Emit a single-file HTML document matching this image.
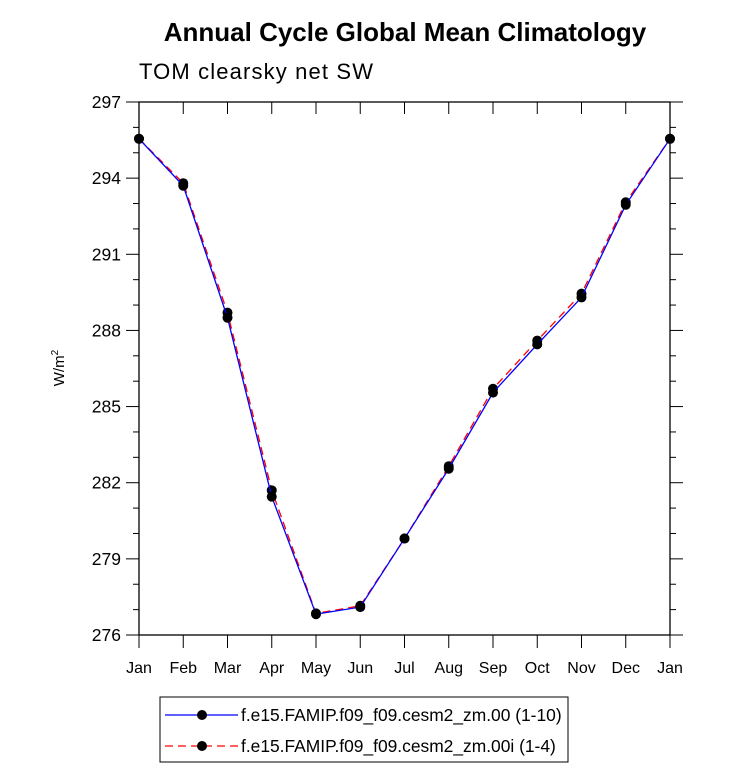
<!DOCTYPE html>
<html><head><meta charset="utf-8"><style>
body{margin:0;background:#fff;}
svg text{font-family:"Liberation Sans",sans-serif;}
</style></head><body>
<svg width="733" height="773" xmlns="http://www.w3.org/2000/svg" id="chart">
<text x="405" y="41" text-anchor="middle" font-size="26" font-weight="bold">Annual Cycle Global Mean Climatology</text>
<text x="139" y="79" font-size="22" textLength="234">TOM clearsky net SW</text>
<text transform="translate(64,368) rotate(-90)" text-anchor="middle" font-size="15">W/m<tspan dy="-6" font-size="10">2</tspan></text>
<g id="axes"></g>
<g id="series"></g>
<g>
<rect x="160" y="697" width="408" height="65" fill="none" stroke="#000" stroke-width="1"/>
<g>
<line x1="165" y1="715" x2="238" y2="715" stroke="#0000ff" stroke-width="1.3"/>
<circle cx="202" cy="715" r="5" fill="#000"/>
<text x="241" y="721" font-size="17.4">f.e15.FAMIP.f09_f09.cesm2_zm.00 (1-10)</text>
</g>
<g>
<line x1="165" y1="746" x2="238" y2="746" stroke="#ff0000" stroke-width="1.3" stroke-dasharray="8,5"/>
<circle cx="202" cy="746" r="5" fill="#000"/>
<text x="241" y="752" font-size="17.4">f.e15.FAMIP.f09_f09.cesm2_zm.00i (1-4)</text>
</g>
</g>
</svg>
<script>
const months = ["Jan","Feb","Mar","Apr","May","Jun","Jul","Aug","Sep","Oct","Nov","Dec","Jan"];
const seriesBlue = [295.55,293.7,288.5,281.45,276.82,277.1,279.8,282.55,285.55,287.45,289.3,292.95,295.55];
const seriesRed = [295.55,293.8,288.7,281.7,276.85,277.15,279.8,282.65,285.7,287.6,289.45,293.05,295.55];
const yTicks = [276,279,282,285,288,291,294,297];
const yMin=276,yMax=297;
const L=139,R=670,T=102,B=635;
const ns="http://www.w3.org/2000/svg";
function xs(i){return L+(R-L)*i/(months.length-1);}
function ys(v){return B-(v-yMin)/(yMax-yMin)*(B-T);}
function mk(tag,attrs,parent){const e=document.createElementNS(ns,tag);for(const k in attrs)e.setAttribute(k,attrs[k]);parent.appendChild(e);return e;}
const axes=document.getElementById('axes');
const frame=mk('rect',{x:L,y:T,width:R-L,height:B-T,fill:'none',stroke:'#000','stroke-width':1.3},axes);


for(let v=yMin;v<=yMax;v++){
  const y=ys(v);const major=yTicks.includes(v);const len=major?13:6;
  mk('line',{x1:L-len,y1:y,x2:L,y2:y,stroke:'#000','stroke-width':1},axes);
  mk('line',{x1:R,y1:y,x2:R+len,y2:y,stroke:'#000','stroke-width':1},axes);
}
yTicks.forEach(v=>{
  const t=mk('text',{x:L-18,y:ys(v)+6,'text-anchor':'end','font-size':17.5},axes);
  t.textContent=v;
  
  
});
months.forEach((m,i)=>{
  const x=xs(i);
  mk('line',{x1:x,y1:B,x2:x,y2:B+13,stroke:'#000','stroke-width':1},axes);
  mk('line',{x1:x,y1:T,x2:x,y2:T+12,stroke:'#000','stroke-width':1},axes);
  const t=mk('text',{x:x,y:B+38,'text-anchor':'middle','font-size':16},axes);
  t.textContent=m;
  
  
});
const sg=document.getElementById('series');
function draw(vals,color,dash,name){
  const pts=vals.map((v,i)=>xs(i)+','+ys(v)).join(' ');
  const pl=mk('polyline',{points:pts,fill:'none',stroke:color,'stroke-width':1.3},sg);
  if(dash)pl.setAttribute('stroke-dasharray',dash);
  
  
  vals.forEach((v,i)=>{
    const c=mk('circle',{cx:xs(i),cy:ys(v),r:5,fill:'#000'},sg);
    
    
  });
}
draw(seriesRed,'#ff0000','8,5','red-series');
draw(seriesBlue,'#0000ff',null,'blue-series');
</script>
</body></html>
